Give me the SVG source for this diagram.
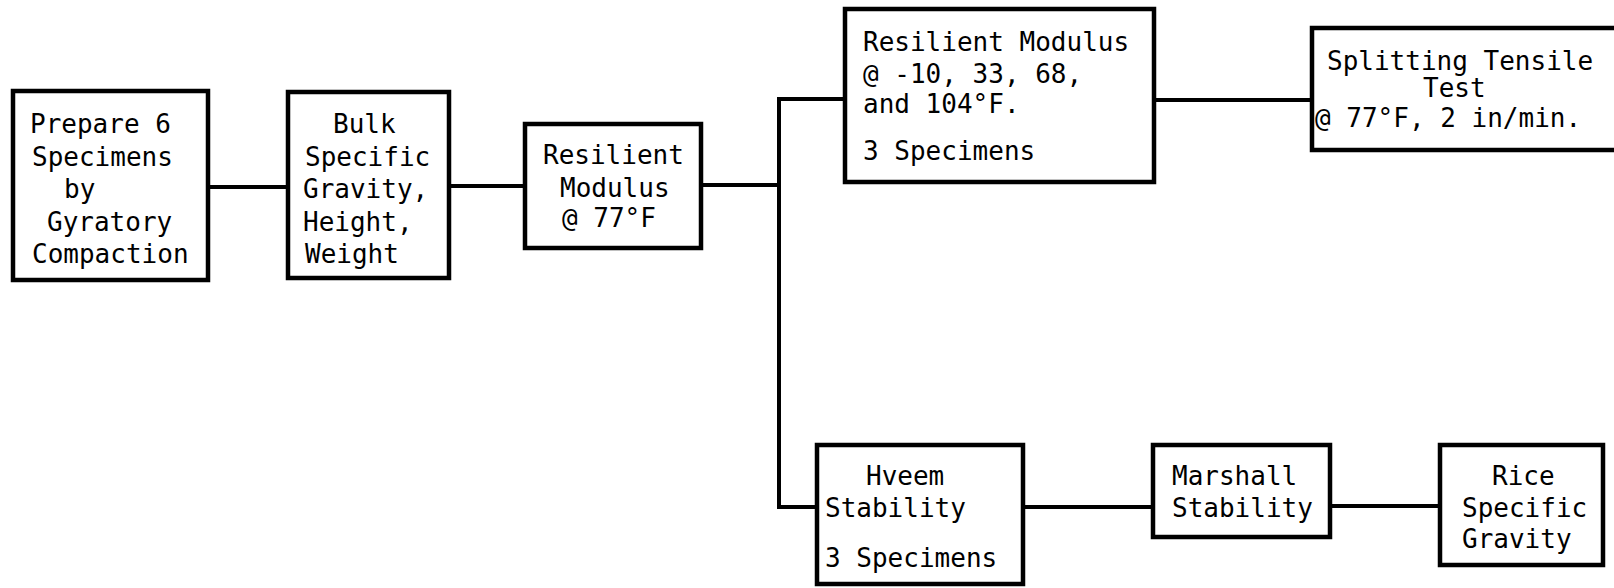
<svg xmlns="http://www.w3.org/2000/svg" width="1614" height="588" viewBox="0 0 1614 588">
<style>
rect.box { fill: #fff; stroke: #000; stroke-width: 4.5; }
.conn line { stroke: #000; stroke-width: 4; stroke-linecap: square; }
text { font-family: "DejaVu Sans Mono", "Liberation Mono", monospace; font-size: 26px; fill: #000; }
</style>
<rect width="1614" height="588" fill="#fff"/>
<g class="conn" id="connectors">
  <line x1="208" y1="187" x2="288" y2="187"/>
  <line x1="449" y1="186" x2="525" y2="186"/>
  <line x1="701" y1="185" x2="779" y2="185"/>
  <line x1="779" y1="99" x2="779" y2="507"/>
  <line x1="779" y1="99" x2="845" y2="99"/>
  <line x1="1154" y1="100" x2="1312" y2="100"/>
  <line x1="779" y1="507" x2="817" y2="507"/>
  <line x1="1023" y1="507" x2="1153" y2="507"/>
  <line x1="1330" y1="506" x2="1440" y2="506"/>
</g>
<g id="prepare">
  <rect class="box" x="13" y="91" width="195" height="189"/>
  <text x="30" y="133">Prepare 6</text>
  <text x="32" y="166">Specimens</text>
  <text x="64" y="198">by</text>
  <text x="47" y="231">Gyratory</text>
  <text x="32" y="263">Compaction</text>
</g>
<g id="bulk">
  <rect class="box" x="288" y="92" width="161" height="186"/>
  <text x="333" y="133">Bulk</text>
  <text x="305" y="166">Specific</text>
  <text x="303" y="198">Gravity,</text>
  <text x="303" y="231">Height,</text>
  <text x="305" y="263">Weight</text>
</g>
<g id="resilient77">
  <rect class="box" x="525" y="124" width="176" height="124"/>
  <text x="543" y="164">Resilient</text>
  <text x="560" y="197">Modulus</text>
  <text x="562" y="227">@ 77°F</text>
</g>
<g id="resilientMulti">
  <rect class="box" x="845" y="9" width="309" height="173"/>
  <text x="863" y="51">Resilient Modulus</text>
  <text x="863" y="83">@ -10, 33, 68,</text>
  <text x="863" y="113">and 104°F.</text>
  <text x="863" y="160">3 Specimens</text>
</g>
<g id="splitting">
  <rect class="box" x="1312" y="28" width="320" height="122"/>
  <text x="1327" y="70">Splitting Tensile</text>
  <text x="1423" y="97">Test</text>
  <text x="1315" y="127">@ 77°F, 2 in/min.</text>
</g>
<g id="hveem">
  <rect class="box" x="817" y="445" width="206" height="139"/>
  <text x="866" y="485">Hveem</text>
  <text x="825" y="517">Stability</text>
  <text x="825" y="567">3 Specimens</text>
</g>
<g id="marshall">
  <rect class="box" x="1153" y="445" width="177" height="92"/>
  <text x="1172" y="485">Marshall</text>
  <text x="1172" y="517">Stability</text>
</g>
<g id="rice">
  <rect class="box" x="1440" y="445" width="163" height="120"/>
  <text x="1492" y="485">Rice</text>
  <text x="1462" y="517">Specific</text>
  <text x="1462" y="548">Gravity</text>
</g>
</svg>
